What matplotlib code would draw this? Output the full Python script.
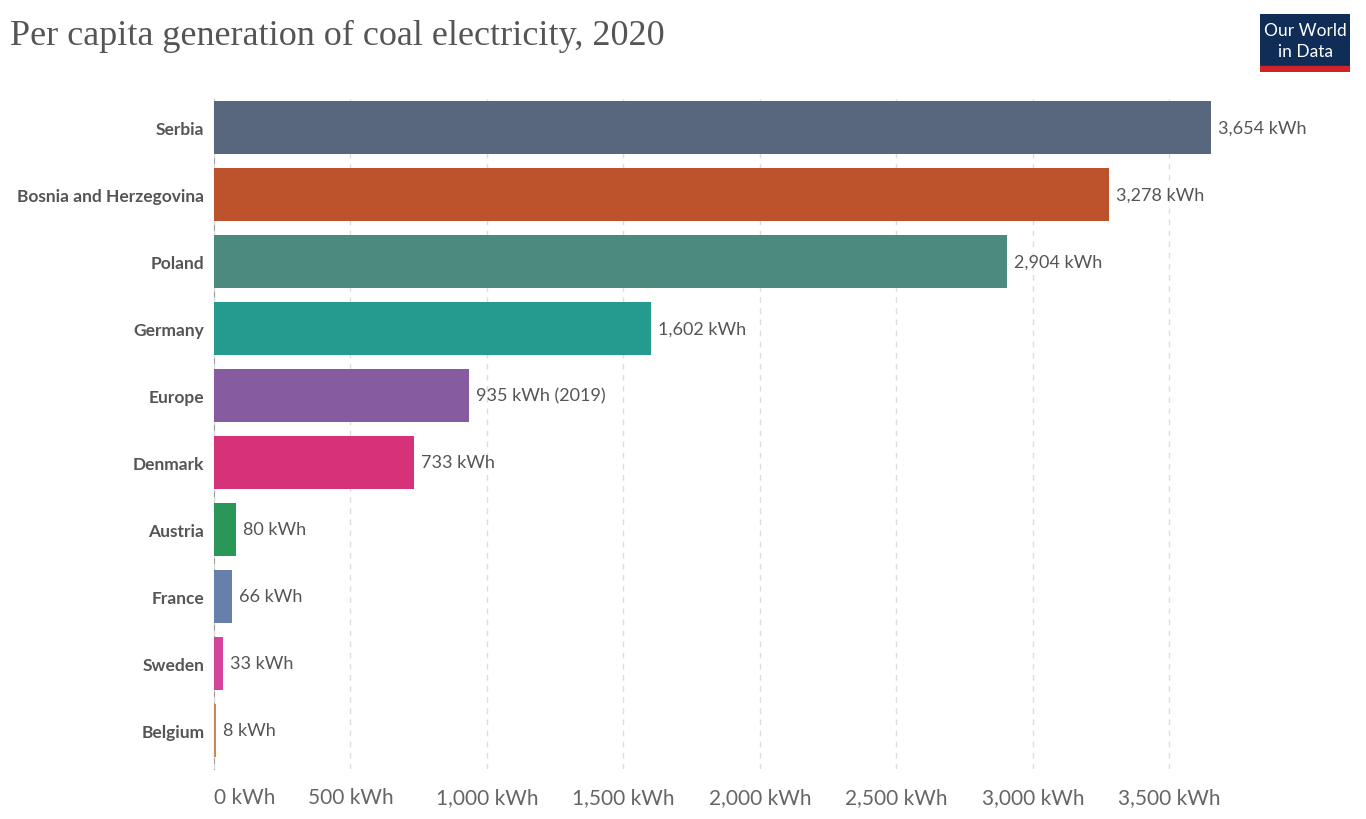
import matplotlib.pyplot as plt
from matplotlib.patches import Rectangle

countries = ['Serbia', 'Bosnia and Herzegovina', 'Poland', 'Germany', 'Europe',
             'Denmark', 'Austria', 'France', 'Sweden', 'Belgium']
values = [3654, 3278, 2904, 1602, 935, 733, 80, 66, 33, 8]
value_labels = ['3,654 kWh', '3,278 kWh', '2,904 kWh', '1,602 kWh', '935 kWh (2019)',
                '733 kWh', '80 kWh', '66 kWh', '33 kWh', '8 kWh']
colors = ['#58677e', '#bc532c', '#4c8a7e', '#259a8f', '#865ba0',
          '#d5327a', '#2a9759', '#6780ab', '#d4449a', '#d0864f']
xticks = [0, 500, 1000, 1500, 2000, 2500, 3000, 3500]
xtick_labels = ['0 kWh', '500 kWh', '1,000 kWh', '1,500 kWh', '2,000 kWh',
                '2,500 kWh', '3,000 kWh', '3,500 kWh']

plt.rcParams['font.family'] = ['Lato', 'DejaVu Sans']

fig = plt.figure(figsize=(13.66, 8.2), dpi=100, facecolor='white')
ax = fig.add_axes([214 / 1366, 1 - 770 / 820, 1010 / 1366, 670 / 820])

ypos = list(range(len(countries)))
ax.barh(ypos, values, height=0.79, color=colors, zorder=2)
for y, v, lab in zip(ypos, values, value_labels):
    ax.text(v + 25, y, lab, va='center', ha='left', fontsize=13, color='#555555',
            clip_on=False)

ax.set_xlim(0, 3700)
ax.set_ylim(9.58, -0.42)
ax.set_yticks(ypos)
ax.set_yticklabels(countries, fontsize=12.5, fontweight='bold', color='#555555')
ax.set_xticks(xticks)
ax.set_xticklabels(xtick_labels, fontsize=15, color='#666666')
ax.get_xticklabels()[0].set_horizontalalignment('left')
ax.tick_params(axis='both', length=0)
ax.tick_params(axis='y', pad=7)
ax.tick_params(axis='x', pad=13)
ax.grid(axis='x', linestyle=(0, (4, 4)), color='#dddddd', linewidth=1, zorder=0)
for s in ['top', 'right', 'bottom']:
    ax.spines[s].set_visible(False)
ax.spines['left'].set_color('#999999')
ax.spines['left'].set_zorder(1.5)

fig.text(10 / 1366, 1 - 36 / 820, 'Per capita generation of coal electricity, 2020',
         fontsize=26, family='Liberation Serif', color='#555555', va='center', ha='left')

# logo
logo = fig.add_axes([1260 / 1366, 1 - 73 / 820, 90 / 1366, 58 / 820])
logo.set_xlim(0, 1)
logo.set_ylim(0, 1)
logo.axis('off')
logo.add_patch(Rectangle((0, 0.1), 1, 0.9, color='#0f2d56'))
logo.add_patch(Rectangle((0, 0), 1, 0.1, color='#cf2327'))
logo.text(0.5, 0.72, 'Our World', color='white', fontsize=12.5, ha='center', va='center')
logo.text(0.5, 0.36, 'in Data', color='white', fontsize=12.5, ha='center', va='center')

fig.savefig('out.png', dpi=100, facecolor='white')
